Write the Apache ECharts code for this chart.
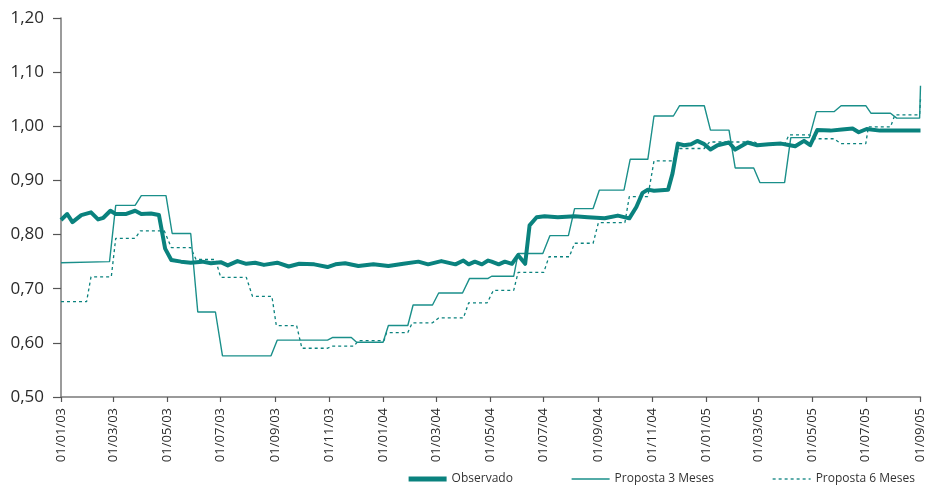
<!DOCTYPE html>
<html>
<head>
<meta charset="utf-8">
<script src="https://cdn.jsdelivr.net/npm/echarts@6/dist/echarts.min.js"></script>
<style>
html,body{margin:0;padding:0;background:#fff;}
#c{width:927px;height:486px;}
</style>
</head>
<body>
<div id="c"></div>
<script>
const seriesNames = ['Observado', 'Proposta 3 Meses', 'Proposta 6 Meses'];

const obsDates = ['2003-01-01','2003-01-08','2003-01-14','2003-01-24','2003-02-04','2003-02-12','2003-02-18','2003-02-26','2003-03-04','2003-03-16','2003-03-26','2003-04-02','2003-04-13','2003-04-22','2003-04-29','2003-05-06','2003-05-17','2003-05-28','2003-06-10','2003-06-20','2003-07-01','2003-07-09','2003-07-20','2003-07-30','2003-08-09','2003-08-19','2003-09-03','2003-09-16','2003-09-28','2003-10-15','2003-10-30','2003-11-08','2003-11-19','2003-12-04','2003-12-21','2004-01-07','2004-01-24','2004-02-10','2004-02-21','2004-03-07','2004-03-23','2004-04-01','2004-04-07','2004-04-14','2004-04-22','2004-04-29','2004-05-03','2004-05-11','2004-05-18','2004-05-26','2004-06-02','2004-06-10','2004-06-15','2004-06-23','2004-07-02','2004-07-17','2004-08-05','2004-08-20','2004-09-08','2004-09-23','2004-10-06','2004-10-14','2004-10-21','2004-10-27','2004-11-03','2004-11-19','2004-11-24','2004-11-30','2004-12-07','2004-12-15','2004-12-22','2004-12-30','2005-01-06','2005-01-14','2005-01-27','2005-02-03','2005-02-17','2005-02-28','2005-03-13','2005-03-27','2005-04-03','2005-04-12','2005-04-22','2005-04-29','2005-05-07','2005-05-22','2005-06-04','2005-06-16','2005-06-23','2005-07-02','2005-07-17','2005-08-05','2005-09-01'];
const obsValues = [0.827,0.838,0.823,0.836,0.841,0.828,0.831,0.844,0.838,0.838,0.844,0.838,0.839,0.836,0.774,0.753,0.750,0.748,0.750,0.747,0.749,0.743,0.751,0.746,0.748,0.744,0.748,0.741,0.746,0.745,0.740,0.745,0.747,0.742,0.745,0.742,0.746,0.750,0.745,0.751,0.745,0.752,0.745,0.750,0.745,0.752,0.750,0.745,0.750,0.746,0.762,0.746,0.817,0.832,0.834,0.832,0.834,0.832,0.830,0.835,0.830,0.851,0.877,0.883,0.881,0.883,0.913,0.968,0.965,0.967,0.973,0.967,0.957,0.965,0.970,0.957,0.970,0.965,0.967,0.968,0.966,0.963,0.973,0.965,0.993,0.992,0.994,0.996,0.989,0.995,0.992,0.992,0.992];

const p3Dates = ['2003-01-01','2003-02-25','2003-03-04','2003-03-26','2003-04-02','2003-04-30','2003-05-07','2003-05-28','2003-06-05','2003-06-25','2003-07-03','2003-08-27','2003-09-03','2003-10-30','2003-11-05','2003-11-26','2003-12-02','2004-01-01','2004-01-07','2004-01-29','2004-02-04','2004-02-26','2004-03-04','2004-03-31','2004-04-08','2004-04-29','2004-05-03','2004-05-28','2004-06-02','2004-06-30','2004-07-08','2004-07-29','2004-08-05','2004-08-26','2004-09-02','2004-09-30','2004-10-07','2004-10-27','2004-11-03','2004-11-25','2004-12-02','2004-12-30','2005-01-06','2005-01-27','2005-02-03','2005-02-24','2005-03-03','2005-03-31','2005-04-07','2005-04-28','2005-05-06','2005-05-26','2005-06-03','2005-07-01','2005-07-07','2005-07-29','2005-08-05','2005-08-31','2005-09-01'];
const p3Values = [0.748,0.750,0.854,0.854,0.872,0.872,0.802,0.802,0.657,0.657,0.576,0.576,0.605,0.605,0.610,0.610,0.601,0.601,0.632,0.632,0.670,0.670,0.692,0.692,0.719,0.719,0.723,0.723,0.765,0.765,0.798,0.798,0.848,0.848,0.882,0.882,0.939,0.939,1.019,1.019,1.038,1.038,0.993,0.993,0.923,0.923,0.896,0.896,0.979,0.979,1.027,1.027,1.038,1.038,1.024,1.024,1.015,1.015,1.075];

const p6Dates = ['2003-01-01','2003-01-30','2003-02-04','2003-02-27','2003-03-04','2003-03-26','2003-04-01','2003-04-28','2003-05-06','2003-05-28','2003-06-03','2003-06-25','2003-07-01','2003-07-30','2003-08-06','2003-08-28','2003-09-02','2003-09-25','2003-10-01','2003-10-30','2003-11-04','2003-11-29','2003-12-04','2004-01-02','2004-01-05','2004-01-29','2004-02-03','2004-02-26','2004-03-04','2004-04-01','2004-04-07','2004-04-28','2004-05-05','2004-05-28','2004-06-02','2004-07-01','2004-07-07','2004-07-30','2004-08-05','2004-08-26','2004-09-01','2004-10-01','2004-10-06','2004-10-27','2004-11-03','2004-11-24','2004-12-02','2004-12-30','2005-01-05','2005-02-25','2005-03-01','2005-03-31','2005-04-05','2005-04-28','2005-05-03','2005-05-26','2005-06-03','2005-07-01','2005-07-04','2005-07-29','2005-08-03','2005-08-31','2005-09-01'];
const p6Values = [0.676,0.676,0.722,0.722,0.793,0.793,0.807,0.807,0.776,0.776,0.754,0.754,0.721,0.721,0.686,0.686,0.632,0.632,0.590,0.590,0.594,0.594,0.604,0.604,0.619,0.619,0.637,0.637,0.646,0.646,0.674,0.674,0.697,0.697,0.730,0.730,0.759,0.759,0.784,0.784,0.822,0.822,0.870,0.870,0.936,0.936,0.959,0.959,0.971,0.971,0.967,0.967,0.984,0.984,0.977,0.977,0.968,0.968,0.999,0.999,1.021,1.021,1.050];

const tickDates = ['2003-01-01','2003-03-01','2003-05-01','2003-07-01','2003-09-01','2003-11-01','2004-01-01','2004-03-01','2004-05-01','2004-07-01','2004-09-01','2004-11-01','2005-01-01','2005-03-01','2005-05-01','2005-07-01','2005-09-01'];

function toTs(s) {
  const p = s.split('-').map(Number);
  return Date.UTC(p[0], p[1] - 1, p[2]);
}
function pairs(dates, values) {
  return dates.map((d, i) => [toTs(d), values[i]]);
}
function fmtDate(v) {
  const d = new Date(v);
  const dd = String(d.getUTCDate()).padStart(2, '0');
  const mm = String(d.getUTCMonth() + 1).padStart(2, '0');
  const yy = String(d.getUTCFullYear() % 100).padStart(2, '0');
  return dd + '/' + mm + '/' + yy;
}

const teal = '#0a827e';
const teal2 = '#1a8f8a';
const tickTs = tickDates.map(toTs);
const FONT = 'Open Sans';
const noSym = { color: 'rgba(0,0,0,0)', borderWidth: 0, opacity: 0 };

const chart = echarts.init(document.getElementById('c'), null, { renderer: 'canvas' });
chart.setOption({
  animation: false,
  backgroundColor: '#ffffff',
  grid: { left: 61, right: 4, top: 18, bottom: 89, containLabel: false },
  legend: {
    data: [
      { name: seriesNames[0], itemStyle: noSym, lineStyle: { width: 5, color: teal } },
      { name: seriesNames[1], itemStyle: noSym, lineStyle: { width: 1.5, color: teal2 } },
      { name: seriesNames[2], itemStyle: noSym, lineStyle: { width: 1.3, color: teal, type: [3, 3] } }
    ],
    right: 7,
    top: 468,
    itemWidth: 38,
    itemHeight: 14,
    itemGap: 58,
    textStyle: { fontFamily: FONT, fontSize: 12, color: '#333' }
  },
  xAxis: {
    type: 'value',
    min: toTs('2003-01-01'),
    max: toTs('2005-09-01'),
    axisLine: { show: true, lineStyle: { color: '#7a7a7a', width: 1.5 } },
    axisTick: { show: true, length: 5, customValues: tickTs, lineStyle: { color: '#555', width: 1.2 } },
    axisLabel: {
      customValues: tickTs,
      rotate: 90,
      margin: 11,
      fontFamily: FONT,
      fontSize: 13,
      color: '#2a2a2a',
      formatter: function (v) { return fmtDate(v); }
    },
    splitLine: { show: false }
  },
  yAxis: {
    type: 'value',
    min: 0.5,
    max: 1.2,
    interval: 0.1,
    axisLine: { show: true, lineStyle: { color: '#7a7a7a', width: 1.5 } },
    axisTick: { show: true, length: 8, lineStyle: { color: '#555', width: 1.2 } },
    axisLabel: {
      margin: 17,
      fontFamily: FONT,
      fontSize: 17,
      color: '#2a2a2a',
      formatter: function (v) { return v.toFixed(2).replace('.', ','); }
    },
    splitLine: { show: false }
  },
  series: [
    {
      name: seriesNames[0],
      type: 'line',
      data: pairs(obsDates, obsValues),
      symbol: 'none',
      z: 5,
      lineStyle: { color: teal, width: 4, join: 'round' },
      itemStyle: { color: teal }
    },
    {
      name: seriesNames[1],
      type: 'line',
      data: pairs(p3Dates, p3Values),
      symbol: 'none',
      z: 4,
      lineStyle: { color: teal2, width: 1.4 },
      itemStyle: { color: teal2 }
    },
    {
      name: seriesNames[2],
      type: 'line',
      data: pairs(p6Dates, p6Values),
      symbol: 'none',
      z: 3,
      lineStyle: { color: teal, width: 1.3, type: [3, 3] },
      itemStyle: { color: teal }
    }
  ]
});
</script>
</body>
</html>
